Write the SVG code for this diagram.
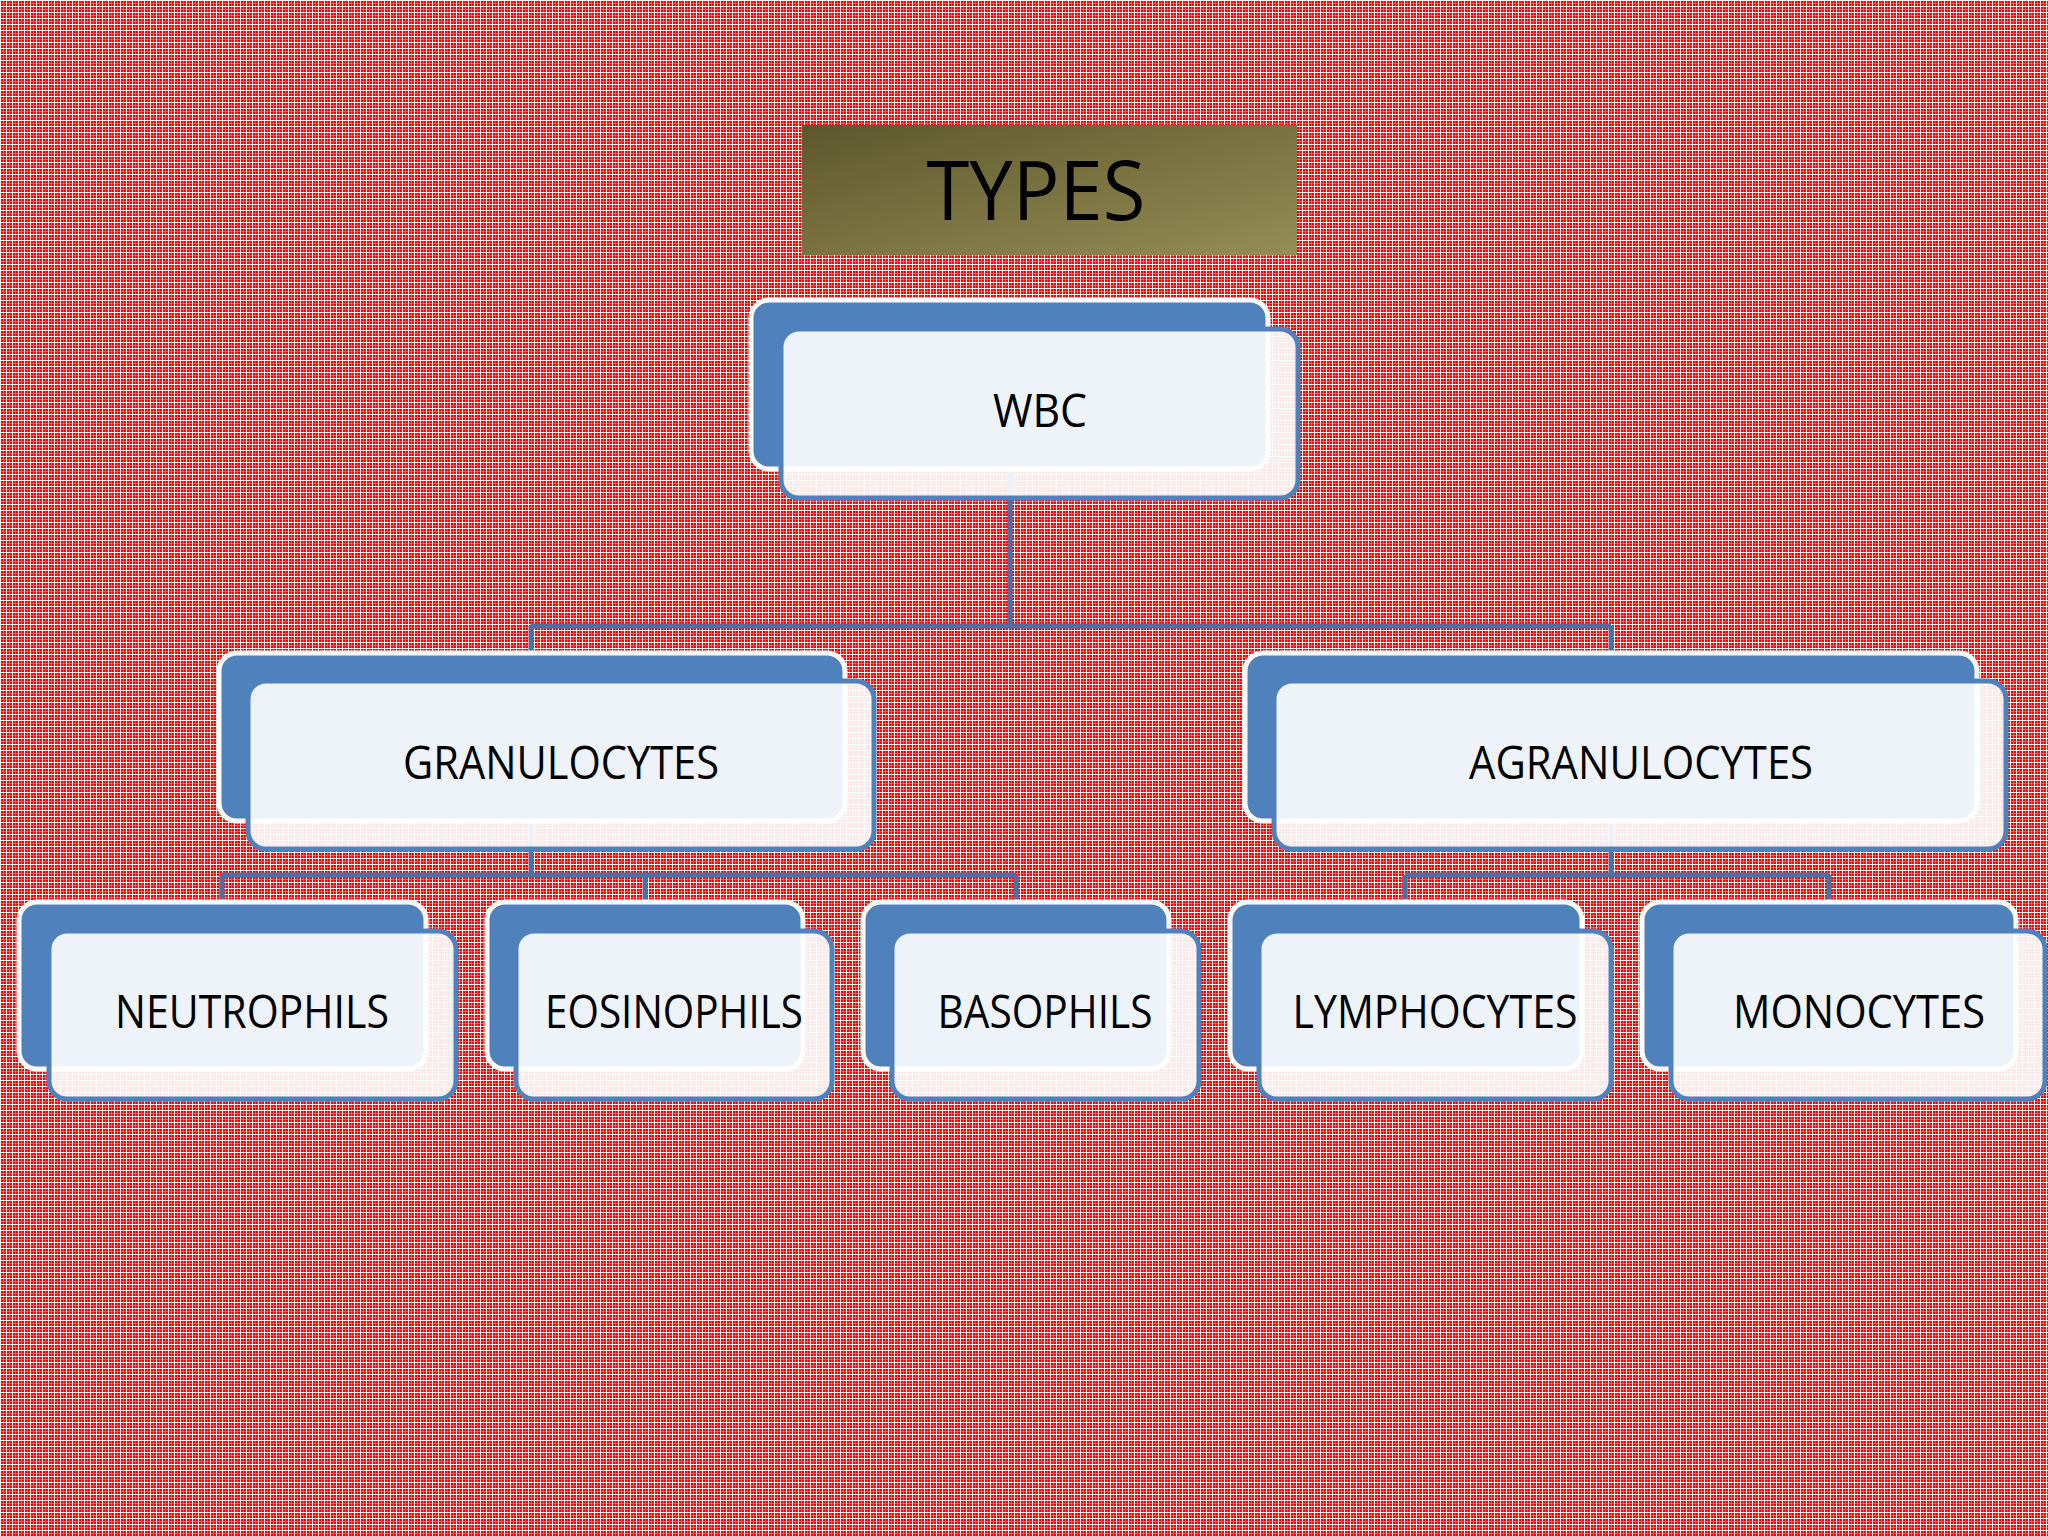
<svg xmlns="http://www.w3.org/2000/svg" width="2048" height="1536" viewBox="0 0 2048 1536">
  <defs>
    <pattern id="bg" width="6" height="6" patternUnits="userSpaceOnUse">
      <rect width="6" height="6" fill="#ff0000"/>
      <rect x="0" y="0" width="1" height="6" fill="#ffffff" opacity="0.95"/>
      <rect x="3" y="0" width="1" height="6" fill="#ffc0c0" opacity="0.45"/>
      <rect x="0" y="0" width="6" height="1" fill="#ffffff" opacity="0.95"/>
      <rect x="0" y="3" width="6" height="1" fill="#ffc0c0" opacity="0.45"/>
    </pattern>
    <linearGradient id="olive" x1="0" y1="0" x2="1" y2="1">
      <stop offset="0" stop-color="#5c582d"/>
      <stop offset="0.5" stop-color="#7a7240"/>
      <stop offset="1" stop-color="#958d56"/>
    </linearGradient>
  </defs>
  <style>
    .back { fill: #4f81bd; stroke: #ffffff; stroke-width: 5; }
    .front { fill: #ffffff; fill-opacity: 0.9; stroke: #4f81bd; stroke-width: 5; }
    .conn { fill: none; stroke: #4a70a6; stroke-width: 5; }
    .lbl { font-family: "Open Sans", "Liberation Sans", sans-serif; font-size: 45px; fill: #000000; text-anchor: middle; }
    .title { font-family: "Open Sans", "Liberation Sans", sans-serif; font-size: 82px; fill: #000000; text-anchor: middle; }
  </style>

  <rect width="2048" height="1536" fill="url(#bg)"/>

  <g id="title">
    <rect x="802" y="125" width="495" height="130" fill="url(#olive)"/>
    <text class="title" x="1036" y="220" textLength="219" lengthAdjust="spacingAndGlyphs">TYPES</text>
  </g>

  <g id="connectors">
    <path class="conn" d="M1010 470 V626 M531 626 H1611 M531 626 V655 M1611 626 V655"/>
    <path class="conn" d="M531 820 V875 M222 875 H1016 M222 875 V904 M645 875 V904 M1016 875 V904"/>
    <path class="conn" d="M1611 820 V875 M1405 875 H1829 M1405 875 V904 M1829 875 V904"/>
  </g>

  <g id="node-wbc">
    <rect class="back" x="751" y="300" width="517" height="169" rx="18"/>
    <rect class="front" x="781" y="329" width="517" height="169" rx="18"/>
    <text class="lbl" x="1040" y="427" textLength="94" lengthAdjust="spacingAndGlyphs">WBC</text>
  </g>

  <g id="node-granulocytes">
    <rect class="back" x="219" y="653" width="626" height="168" rx="18"/>
    <rect class="front" x="248" y="681" width="626" height="168" rx="18"/>
    <text class="lbl" x="561" y="779" textLength="316" lengthAdjust="spacingAndGlyphs">GRANULOCYTES</text>
  </g>

  <g id="node-agranulocytes">
    <rect class="back" x="1245" y="653" width="732" height="168" rx="18"/>
    <rect class="front" x="1274" y="681" width="732" height="168" rx="18"/>
    <text class="lbl" x="1641" y="779" textLength="344" lengthAdjust="spacingAndGlyphs">AGRANULOCYTES</text>
  </g>

  <g id="node-neutrophils">
    <rect class="back" x="19" y="902" width="407" height="167" rx="18"/>
    <rect class="front" x="49" y="931" width="407" height="168" rx="18"/>
    <text class="lbl" x="252" y="1028" textLength="274" lengthAdjust="spacingAndGlyphs">NEUTROPHILS</text>
  </g>

  <g id="node-eosinophils">
    <rect class="back" x="487" y="902" width="316" height="167" rx="18"/>
    <rect class="front" x="516" y="931" width="316" height="168" rx="18"/>
    <text class="lbl" x="674" y="1028" textLength="258" lengthAdjust="spacingAndGlyphs">EOSINOPHILS</text>
  </g>

  <g id="node-basophils">
    <rect class="back" x="863" y="902" width="306" height="167" rx="18"/>
    <rect class="front" x="892" y="931" width="307" height="168" rx="18"/>
    <text class="lbl" x="1045" y="1028" textLength="215" lengthAdjust="spacingAndGlyphs">BASOPHILS</text>
  </g>

  <g id="node-lymphocytes">
    <rect class="back" x="1230" y="902" width="352" height="167" rx="18"/>
    <rect class="front" x="1259" y="931" width="352" height="168" rx="18"/>
    <text class="lbl" x="1435" y="1028" textLength="285" lengthAdjust="spacingAndGlyphs">LYMPHOCYTES</text>
  </g>

  <g id="node-monocytes">
    <rect class="back" x="1642" y="902" width="374" height="167" rx="18"/>
    <rect class="front" x="1671" y="931" width="374" height="168" rx="18"/>
    <text class="lbl" x="1859" y="1028" textLength="252" lengthAdjust="spacingAndGlyphs">MONOCYTES</text>
  </g>
</svg>
